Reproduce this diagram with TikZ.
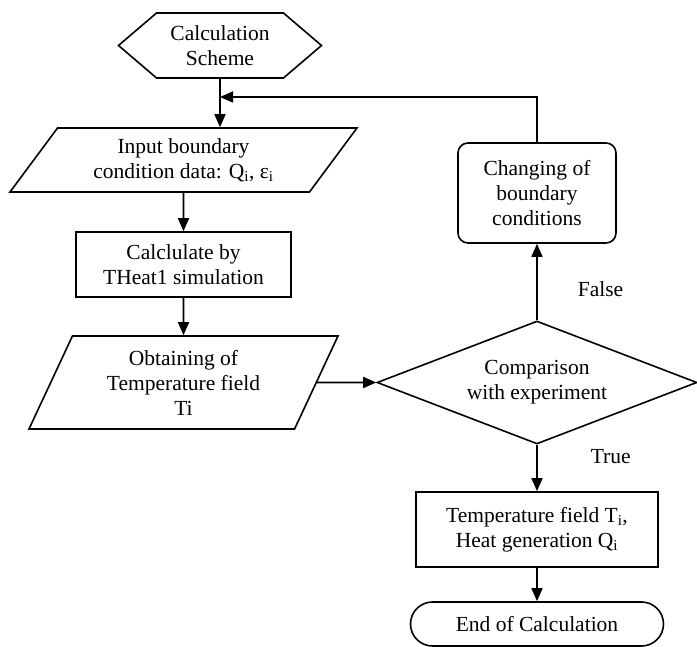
\documentclass[tikz,border=0pt]{standalone}
\usepackage{fontspec}
\setmainfont{LiberationSerif}[Extension=.ttf,UprightFont=*-Regular]
\usetikzlibrary{shapes.geometric,shapes.symbols,arrows.meta}

\begin{document}
\begin{tikzpicture}[x=1pt,y=-1pt,line width=1.6pt,
       every node/.style={font=\rmfamily\fontsize{21.5}{25}\selectfont,align=center,inner sep=0pt},
       arr/.style={-{Triangle[length=13pt,width=11pt]}},
       box/.style={draw,rectangle},
       io/.style={draw,trapezium,trapezium stretches body}]
       \useasboundingbox(0,0)rectangle(697,647);
       \node[draw,signal,signal to=west and east,signal pointer angle=81,
             minimum width=203,minimum height=65](start)at(220,45.5){Calculation\\Scheme};
       \node[io,trapezium left angle=42.4,trapezium right angle=137.6,
             minimum width=347,minimum height=64](inp)at(183.5,160){Input boundary\\condition data: Q\textsubscript{i}, ε\textsubscript{i}};
       \node[box,minimum width=215,minimum height=65](calc)at(183.5,264.5){Calclulate by\\THeat1 simulation};
       \node[io,trapezium left angle=56.3,trapezium right angle=123.7,
             minimum width=309,minimum height=93](obt)at(183.5,382.5){Obtaining of\\Temperature field\\Ti};
       \node[draw,diamond,aspect=2.6,minimum width=320,minimum height=123](cmp)at(537,382.5){Comparison\\with experiment};
       \node[box,rounded corners=10,minimum width=158,minimum height=100](chg)at(537,193){Changing of\\boundary\\conditions};
       \node[box,minimum width=242,minimum height=75](res)at(537,529.5){Temperature field T\textsubscript{i},\\Heat generation Q\textsubscript{i}};
       \node[draw,rounded corners=22,minimum width=253,minimum height=44](stop)at(537,624){End of Calculation};
       \coordinate(fb)at(220,97);
       \draw[arr](start.south)--(start.south|-inp.north);
       \draw[arr](inp.south)--(calc.north);
       \draw[arr](calc.south)--(obt.north);
       \draw[arr](obt.east)--(cmp.west);
       \draw[arr](cmp.north)--node[pos=.4,right=40pt]{False}(chg.south);
       \draw[arr](chg.north)|-(fb);
       \draw[arr](cmp.south)--node[pos=.25,right=53pt]{True}(res.north);
       \draw[arr](res.south)--(stop.north);
      \end{tikzpicture}
\end{document}
